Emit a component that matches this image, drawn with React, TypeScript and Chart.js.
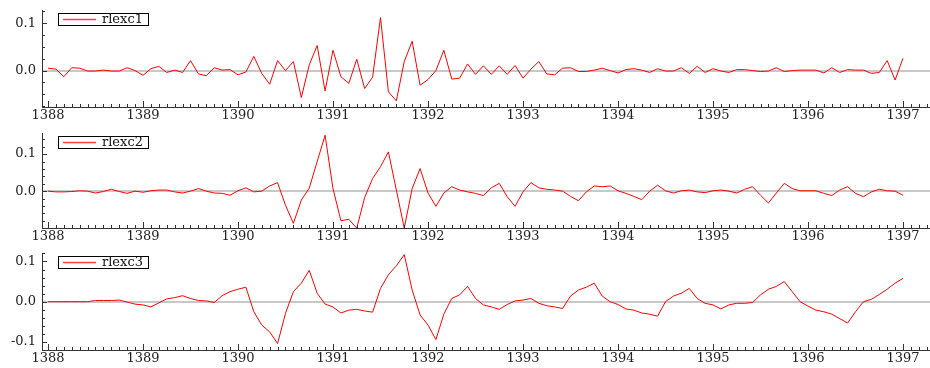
import React, { useEffect, useRef } from 'react';
import { Chart, registerables } from 'chart.js';

Chart.register(...registerables);

// ---- data ----
const START_YEAR = 1388;
const MONTH_COUNT = 109; // 1388/01 .. 1397/01
const months: number[] = Array.from({ length: MONTH_COUNT }, (_, i) => START_YEAR + i / 12);
const yearTicks = [1388, 1389, 1390, 1391, 1392, 1393, 1394, 1395, 1396, 1397];

const rlexc1 = [
  0.005, 0.003, -0.013, 0.006, 0.005, -0.001, -0.001, 0.001, -0.001, -0.001, 0.006, 0,
  -0.01, 0.004, 0.009, -0.004, 0.001, -0.004, 0.021, -0.007, -0.011, 0.006, 0.001, 0.002,
  -0.009, -0.003, 0.03, -0.006, -0.029, 0.021, 0, 0.019, -0.057, 0.012, 0.053, -0.043,
  0.043, -0.013, -0.027, 0.024, -0.038, -0.014, 0.112, -0.045, -0.064, 0.019, 0.062, -0.031,
  -0.019, 0, 0.043, -0.018, -0.016, 0.014, -0.008, 0.01, -0.008, 0.01, -0.008, 0.011,
  -0.016, 0.003, 0.019, -0.007, -0.009, 0.005, 0.006, -0.002, -0.002, 0.001, 0.005, 0,
  -0.005, 0.002, 0.004, 0.001, -0.004, 0.004, -0.001, -0.001, 0.006, -0.006, 0.009, -0.004,
  0.004, -0.001, -0.004, 0.002, 0.002, 0, -0.002, -0.001, 0.006, -0.002, 0, 0.001,
  0.001, 0.001, -0.005, 0.006, -0.004, 0.002, 0.001, 0.001, -0.006, -0.004, 0.021, -0.02,
  0.026,
];

const rlexc2 = [
  0, -0.002, -0.002, -0.001, 0.001, 0, -0.005, -0.001, 0.005, -0.001, -0.006, 0,
  -0.003, 0.001, 0.003, 0.003, -0.002, -0.005, 0, 0.007, 0, -0.005, -0.006, -0.011,
  0.001, 0.009, -0.002, 0, 0.014, 0.023, -0.038, -0.087, -0.024, 0.008, 0.08, 0.151,
  0.007, -0.08, -0.076, -0.1, -0.017, 0.034, 0.066, 0.106, 0.003, -0.1, 0.007, 0.061,
  -0.005, -0.041, -0.005, 0.012, 0.003, -0.002, -0.006, -0.012, 0.009, 0.021, -0.015, -0.041,
  -0.002, 0.023, 0.009, 0.005, 0.003, 0, -0.014, -0.026, -0.002, 0.014, 0.012, 0.014,
  0.001, -0.006, -0.014, -0.023, 0, 0.016, 0.001, -0.005, 0.001, 0.003, -0.002, -0.004,
  0.001, 0.003, 0, -0.005, 0.005, 0.012, -0.011, -0.032, -0.005, 0.021, 0.007, 0.001,
  0.001, 0.001, -0.006, -0.012, 0.003, 0.012, -0.006, -0.015, -0.002, 0.005, 0.001, 0,
  -0.011,
];

const rlexc3 = [
  0, 0, 0, 0, 0, 0, 0.003, 0.003, 0.003, 0.004, -0.001, -0.006,
  -0.008, -0.013, -0.003, 0.007, 0.01, 0.015, 0.008, 0.003, 0.002, -0.002, 0.015, 0.025,
  0.031, 0.036, -0.025, -0.058, -0.075, -0.104, -0.029, 0.025, 0.046, 0.078, 0.021, -0.006,
  -0.013, -0.028, -0.021, -0.019, -0.023, -0.026, 0.033, 0.067, 0.089, 0.117, 0.029, -0.033,
  -0.058, -0.094, -0.031, 0.008, 0.017, 0.038, 0.008, -0.008, -0.013, -0.019, -0.007, 0.002,
  0.004, 0.008, -0.004, -0.01, -0.013, -0.017, 0.014, 0.029, 0.036, 0.046, 0.014, 0,
  -0.007, -0.018, -0.021, -0.028, -0.031, -0.036, 0, 0.014, 0.021, 0.033, 0.008, -0.004,
  -0.008, -0.018, -0.008, -0.004, -0.004, -0.002, 0.017, 0.031, 0.038, 0.05, 0.025, 0,
  -0.011, -0.021, -0.025, -0.031, -0.042, -0.053, -0.025, 0, 0.006, 0.018, 0.031, 0.046,
  0.058,
];

const seriesLabels = ['rlexc1', 'rlexc2', 'rlexc3'];
const seriesValues = [rlexc1, rlexc2, rlexc3];

// ---- layout / style ----
const X_MIN = 1387.937;
const X_MAX = 1397.284;
const AXIS_COLOR = '#333333';
const TEXT_COLOR = '#222222';
const LINE_COLOR = 'rgb(255,0,0)';
const ZERO_COLOR = '#c8c8c8';
const FONT_FAMILY = 'DejaVu Serif';

type PanelCfg = { yMin: number; yMax: number; minor: number; top: number; height: number; plotH: number };
const panels: PanelCfg[] = [
  { yMin: -0.077, yMax: 0.128, minor: 0.025, top: 0, height: 122, plotH: 97 },
  { yMin: -0.0995, yMax: 0.157, minor: 0.02, top: 123, height: 120, plotH: 95 },
  { yMin: -0.12, yMax: 0.121, minor: 0.02, top: 243, height: 125, plotH: 97 },
];
const PAD_TOP = 10;
const Y_AXIS_W = 42;

const axisTicksPlugin = {
  id: 'axisTicks',
  afterDraw(chart: any, _args: any, opts: any) {
    const { ctx, chartArea: a, scales } = chart;
    const x = scales.x;
    const y = scales.y;
    ctx.save();
    ctx.strokeStyle = AXIS_COLOR;
    ctx.lineWidth = 1;
    ctx.beginPath();
    const m0 = Math.ceil(x.min * 12 - 1e-6);
    const m1 = Math.floor(x.max * 12 + 1e-6);
    for (let m = m0; m <= m1; m++) {
      const px = Math.round(x.getPixelForValue(m / 12)) + 0.5;
      const len = m % 12 === 0 ? 6 : 3;
      ctx.moveTo(px, a.bottom);
      ctx.lineTo(px, a.bottom - len);
    }
    const step = opts.minor;
    const k0 = Math.ceil(y.min / step - 1e-6);
    const k1 = Math.floor(y.max / step + 1e-6);
    for (let k = k0; k <= k1; k++) {
      const v = k * step;
      const major = Math.abs(v / 0.1 - Math.round(v / 0.1)) < 1e-6;
      const py = Math.round(y.getPixelForValue(v)) + 0.5;
      ctx.moveTo(a.left, py);
      ctx.lineTo(a.left + (major ? 5 : 3), py);
    }
    ctx.stroke();
    ctx.restore();
  },
};

const legendBoxPlugin = {
  id: 'legendBox',
  afterDraw(chart: any) {
    const { ctx, chartArea: a } = chart;
    const ds = chart.data.datasets[0];
    const bx = Math.round(a.left + 16);
    const by = Math.round(a.top + 3);
    const bw = 90;
    const bh = 12;
    ctx.save();
    ctx.fillStyle = '#ffffff';
    ctx.fillRect(bx, by, bw, bh);
    ctx.strokeStyle = '#000000';
    ctx.lineWidth = 1;
    ctx.strokeRect(bx + 0.5, by + 0.5, bw, bh);
    ctx.beginPath();
    ctx.strokeStyle = 'rgba(255,60,60,1)';
    ctx.lineWidth = 1.3;
    ctx.moveTo(bx + 5, by + bh / 2 + 0.5);
    ctx.lineTo(bx + 38, by + bh / 2 + 0.5);
    ctx.stroke();
    ctx.fillStyle = '#111111';
    ctx.font = `13px "${FONT_FAMILY}"`;
    ctx.textBaseline = 'middle';
    ctx.textAlign = 'left';
    ctx.fillText(ds.label, bx + 44, by + bh / 2 + 1);
    ctx.restore();
  },
};

function Panel({ index }: { index: number }) {
  const ref = useRef<HTMLCanvasElement | null>(null);
  const cfg = panels[index];
  useEffect(() => {
    if (!ref.current) return;
    const values = seriesValues[index];
    const xAxisH = cfg.height - PAD_TOP - cfg.plotH;
    const font = { family: FONT_FAMILY, size: 13 };
    const chart = new Chart(ref.current, {
      type: 'line',
      data: {
        datasets: [
          {
            label: seriesLabels[index],
            data: months.map((m, i) => ({ x: m, y: values[i] })),
            borderColor: LINE_COLOR,
            borderWidth: 1,
            pointRadius: 0,
            tension: 0,
            fill: false,
          },
        ],
      },
      options: {
        responsive: false,
        animation: false,
        events: [],
        layout: { padding: { top: PAD_TOP, left: 0, right: 0, bottom: 0 } },
        plugins: {
          legend: { display: false },
          tooltip: { enabled: false },
          axisTicks: { minor: cfg.minor },
        } as any,
        scales: {
          x: {
            type: 'linear',
            min: X_MIN,
            max: X_MAX,
            afterBuildTicks: (s: any) => {
              s.ticks = yearTicks.map((v) => ({ value: v }));
            },
            afterFit: (s: any) => {
              s.height = xAxisH;
              s.paddingLeft = 0;
              s.paddingRight = 0;
            },
            ticks: {
              font,
              color: TEXT_COLOR,
              padding: 1,
              maxRotation: 0,
              autoSkip: false,
              callback: (v: any) => String(v),
            },
            grid: { display: false, drawTicks: false },
            border: { display: true, color: AXIS_COLOR, width: 1 },
          },
          y: {
            type: 'linear',
            min: cfg.yMin,
            max: cfg.yMax,
            afterFit: (s: any) => {
              s.width = Y_AXIS_W;
              s.paddingTop = 0;
              s.paddingBottom = 0;
            },
            ticks: {
              stepSize: 0.1,
              includeBounds: false,
              padding: 6,
              font,
              color: TEXT_COLOR,
              callback: (v: any) => Number(v).toFixed(1),
            },
            grid: {
              drawTicks: false,
              lineWidth: 2,
              color: (ctx: any) =>
                ctx.tick && Math.abs(ctx.tick.value) < 1e-9 ? ZERO_COLOR : 'rgba(0,0,0,0)',
            },
            border: { display: true, color: AXIS_COLOR, width: 1 },
          },
        },
      } as any,
      plugins: [axisTicksPlugin, legendBoxPlugin],
    });
    return () => chart.destroy();
  }, [index]);
  return (
    <canvas
      ref={ref}
      width={930}
      height={cfg.height}
      style={{ position: 'absolute', left: 0, top: cfg.top, width: 930, height: cfg.height }}
    />
  );
}

export default function App() {
  return (
    <div
      style={{
        position: 'fixed',
        left: 0,
        top: 0,
        width: 930,
        height: 368,
        background: '#ffffff',
        overflow: 'hidden',
      }}
    >
      {panels.map((_, i) => (
        <Panel key={i} index={i} />
      ))}
    </div>
  );
}
